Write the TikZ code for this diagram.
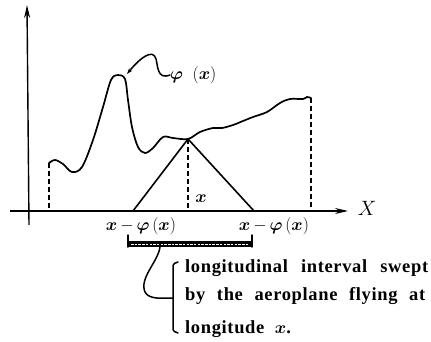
\documentclass[tikz,border=0pt]{standalone}
\usepackage{fontspec}
\usepackage{bm}
\setmainfont{Liberation Serif}
\newfontfamily\labfont[LetterSpace=3.5]{Liberation Serif}
\usetikzlibrary{arrows.meta}
\begin{document}
\begin{tikzpicture}[x=1pt,y=-1pt,
  curve/.style={line width=1.7pt, line join=round, line cap=round},
  axis/.style={line width=1.4pt, -{Stealth[length=13pt,width=6pt]}},
  guide/.style={line width=1.6pt, dash pattern=on 5pt off 3pt},
  thin/.style={line width=1.5pt, line cap=round},
  lbl/.style={inner sep=0pt, font=\fontsize{17}{19}\selectfont},
  txt/.style={inner sep=0pt, anchor=base west, font=\labfont\bfseries\fontsize{18.5}{21}\selectfont}]
\useasboundingbox (0,0) rectangle (431,342);
% axes
\coordinate (o) at (29,211);
\coordinate (ytop) at (27,5);
\coordinate (ybot) at (29,225);
\coordinate (xl) at (10,211);
\coordinate (xr) at (348,211);
\draw[axis] (ybot) -- (ytop);
\draw[axis] (xl) -- (xr);
\node[inner sep=0pt, font=\fontsize{20}{22}\selectfont] (X) at (367,208) {$X$};
% curve
\coordinate (cs) at (49,163);
\coordinate (cp) at (118,75);
\coordinate (ca) at (188,139);
\coordinate (ce) at (311,98);
\draw[curve] plot[smooth, tension=0.55] coordinates {
  (cs) (55,160) (63,164) (72,172) (82,167) (93,140) (103,107) (111,80) (cp)
  (125,79) (128,100) (132,127) (138,147) (145,153) (153,148) (163,137)
  (173,138) (ca) (200,132) (213,128) (222,128) (233,125) (243,121) (253,117)
  (267,112) (280,103) (290,99) (303,99) (307,97) (ce)};
% guides
\draw[guide] (cs) -- (cs |- o);
\draw[guide] (ca) -- (ca |- o);
\draw[guide] (ce) -- (ce |- o);
% triangle
\coordinate (tl) at (133,211);
\coordinate (tr) at (254,211);
\draw[line width=1.6pt, line join=miter] (tl) -- (ca) -- (tr);
\node[inner sep=0pt, font=\fontsize{16}{17}\selectfont] (xa) at (201,199) {$\bm{x}$};
\node[lbl] (lm) at (141,226) {$\bm{x}\,{-}\,\bm{\varphi}\,(\bm{x})$};
\node[lbl] (rm) at (274,226) {$\bm{x}\,{-}\,\bm{\varphi}\,(\bm{x})$};
% phi label and pointer
\node[lbl, anchor=west] (phi) at (170,75) {$\bm{\varphi}\;\;(\bm{x})$};
\draw[thin, -{Stealth[length=6pt,width=4pt]}] (phi.west) .. controls (157,80) and (158,66) .. (156,59)
  .. controls (153,48) and (140,58) .. (127,74);
% hatched bar
\coordinate (bl) at (128,244);
\coordinate (br) at (252,244);
\fill (128,241) rectangle (252,247);
\draw[white, line width=1pt, dash pattern=on 2.5pt off 1.2pt] (131,244) -- (249,244);
\draw[thin] (128,235) -- (128,247);
\draw[thin] (252,235) -- (252,247);
% bracket connector
\coordinate (bc) at (160,247);
\coordinate (bk) at (173,298);
\draw[thin] (bc) .. controls (158,262) and (139,278) .. (145,292)
  .. controls (149,300) and (163,298) .. (bk);
\draw[thin, rounded corners=1.5pt] (178,262) -- (173,264) -- (173,331) -- (178,333);
% text
\node[txt] (t1) at (185,272) {\makebox[243pt][s]{longitudinal interval swept}};
\node[txt] (t2) at (185,300) {\makebox[240pt][s]{by the aeroplane flying at}};
\node[txt] (t3) at (185,333) {longitude \ $\bm{x}$.};
\end{tikzpicture}
\end{document}
